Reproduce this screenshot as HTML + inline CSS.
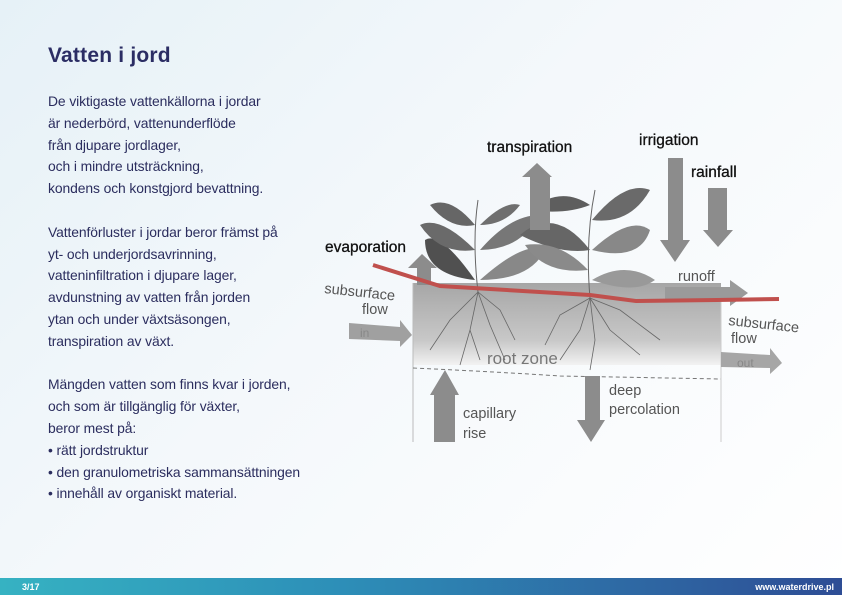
<!DOCTYPE html>
<html><head><meta charset="utf-8"><style>
html,body{margin:0;padding:0}
body{width:842px;height:595px;position:relative;overflow:hidden;background:linear-gradient(135deg,#e6f1f7 0%,#f4f8fb 45%,#ffffff 100%);font-family:"Liberation Sans",sans-serif}
h1{position:absolute;left:48px;top:44px;margin:0;font-size:21px;font-weight:bold;color:#2b2d64;letter-spacing:0.2px}
.t{position:absolute;left:48px;top:91px;font-size:13.9px;line-height:21.8px;color:#2b2d5e;white-space:pre;letter-spacing:-0.1px}
.foot{position:absolute;left:0;top:578px;width:842px;height:17px;background:linear-gradient(90deg,#36b2c2 0%,#2d8fb8 40%,#2e4d95 100%);color:#fff;font-size:9px;font-weight:bold}
.foot span{position:absolute;top:4px}
</style></head><body>
<h1>Vatten i jord</h1>
<div class="t">De viktigaste vattenkällorna i jordar
är nederbörd, vattenunderflöde
från djupare jordlager,
och i mindre utsträckning,
kondens och konstgjord bevattning.

Vattenförluster i jordar beror främst på
yt- och underjordsavrinning,
vatteninfiltration i djupare lager,
avdunstning av vatten från jorden
ytan och under växtsäsongen,
transpiration av växt.

Mängden vatten som finns kvar i jorden,
och som är tillgänglig för växter,
beror mest på:
• rätt jordstruktur
• den granulometriska sammansättningen
• innehåll av organiskt material.</div>
<svg style="position:absolute;left:0;top:0" width="842" height="595">
<defs><linearGradient id="s" x1="0" y1="0" x2="0" y2="1"><stop offset="0" stop-color="#a6a6a6"/><stop offset="0.7" stop-color="#c8c8c8"/><stop offset="1" stop-color="#f2f2f2"/></linearGradient></defs>
<rect x="413" y="283" width="308" height="82" fill="url(#s)"/>
<line x1="413" y1="283" x2="413" y2="442" stroke="#bbb"/>
<line x1="721" y1="300" x2="721" y2="442" stroke="#ccc"/>
<path d="M413 368 Q500 372 560 376 L721 379" stroke="#777" stroke-dasharray="4 3" fill="none"/>
<g stroke="#666" stroke-width="0.8" fill="none">
<path d="M478 292 L470 330 L460 365 M478 292 L490 325 L505 360 M478 292 L450 320 L430 350 M478 292 L500 310 L515 340 M470 330 L480 360"/>
<path d="M590 298 L580 330 L560 360 M590 298 L610 330 L640 355 M590 298 L560 315 L545 345 M590 298 L620 310 L660 340 M590 298 L595 340 L590 370"/>
</g>
<g fill="#777">
<path d="M478 292 Q472 240 478 200" stroke="#666" fill="none"/>
<path d="M590 298 Q585 240 595 190" stroke="#666" fill="none"/>
<path d="M475 280 Q440 230 425 240 Q425 275 475 280Z" fill="#505050"/>
<path d="M475 250 Q440 215 420 225 Q440 255 475 250Z" fill="#6a6a6a"/>
<path d="M475 225 Q450 195 430 205 Q450 230 475 225Z" fill="#666"/>
<path d="M480 280 Q525 240 545 250 Q530 280 480 280Z" fill="#888"/>
<path d="M480 250 Q510 215 540 215 Q520 250 480 250Z" fill="#777"/>
<path d="M480 225 Q505 200 520 205 Q505 225 480 225Z" fill="#6f6f6f"/>
<path d="M590 250 Q555 205 520 235 Q560 255 590 250Z" fill="#666"/>
<path d="M588 270 Q560 240 525 245 Q545 275 588 270Z" fill="#8a8a8a"/>
<path d="M592 220 Q625 180 650 190 Q630 225 592 220Z" fill="#6a6a6a"/>
<path d="M592 250 Q630 215 650 230 Q640 262 592 250Z" fill="#888"/>
<path d="M592 280 Q625 260 655 280 Q635 295 592 280Z" fill="#999"/>
<path d="M590 205 Q560 185 530 210 Q565 215 590 205Z" fill="#5e5e5e"/>
</g>
<g fill="#8c8c8c">
<path d="M417 285 V268 H408 L422 254 L437 268 H431 V285Z"/>
<path d="M530 230 V177 H522 L537 163 L552 177 H550 V230Z"/>
<path d="M668 158 H683 V240 H690 L675 262 L660 240 H668Z"/>
<path d="M708 188 H727 V230 H733 L718 247 L703 230 H708Z"/>
<path d="M665 287 H730 V280 L748 293 L730 306 V300 H665Z" fill="#9a9a9a"/>
<path d="M349 323 L400 327 V320 L412 335 L400 347 V341 L349 339Z" fill="#a0a0a0"/>
<path d="M721 352 L770 355 V348 L782 363 L770 374 V368 L721 367Z" fill="#a6a6a6"/>
<path d="M434 442 V395 H430 L445 370 L459 395 H455 V442Z"/>
<path d="M585 376 H600 V420 H605 L591 442 L577 420 H585Z"/>
</g>
<polyline points="373,265 440,286 590,295 636,301 717,300 779,299" fill="none" stroke="#c0504d" stroke-width="4"/>
<g font-family="Liberation Sans, sans-serif" font-size="15.5" fill="#111" stroke="#111" stroke-width="0.3">
<text x="487" y="152">transpiration</text>
<text x="639" y="145">irrigation</text>
<text x="691" y="177">rainfall</text>
<text x="325" y="252">evaporation</text>
</g>
<g font-family="Liberation Sans, sans-serif" font-size="14.5" fill="#555">
<text x="678" y="281">runoff</text>
<text x="324" y="293" transform="rotate(6 324 293)">subsurface</text>
<text x="362" y="314">flow</text>
<text x="728" y="325" transform="rotate(6 728 325)">subsurface</text>
<text x="731" y="343">flow</text>
<text x="487" y="364" font-size="17" fill="#777">root zone</text>
<text x="609" y="395">deep</text>
<text x="609" y="414">percolation</text>
<text x="463" y="418">capillary</text>
<text x="463" y="438">rise</text>
<text x="360" y="337" fill="#888" font-size="12">in</text>
<text x="737" y="367" fill="#888" font-size="12">out</text>
</g>
</svg>
<div class="foot"><span style="left:22px">3/17</span><span style="right:8px">www.waterdrive.pl</span></div>
</body></html>
